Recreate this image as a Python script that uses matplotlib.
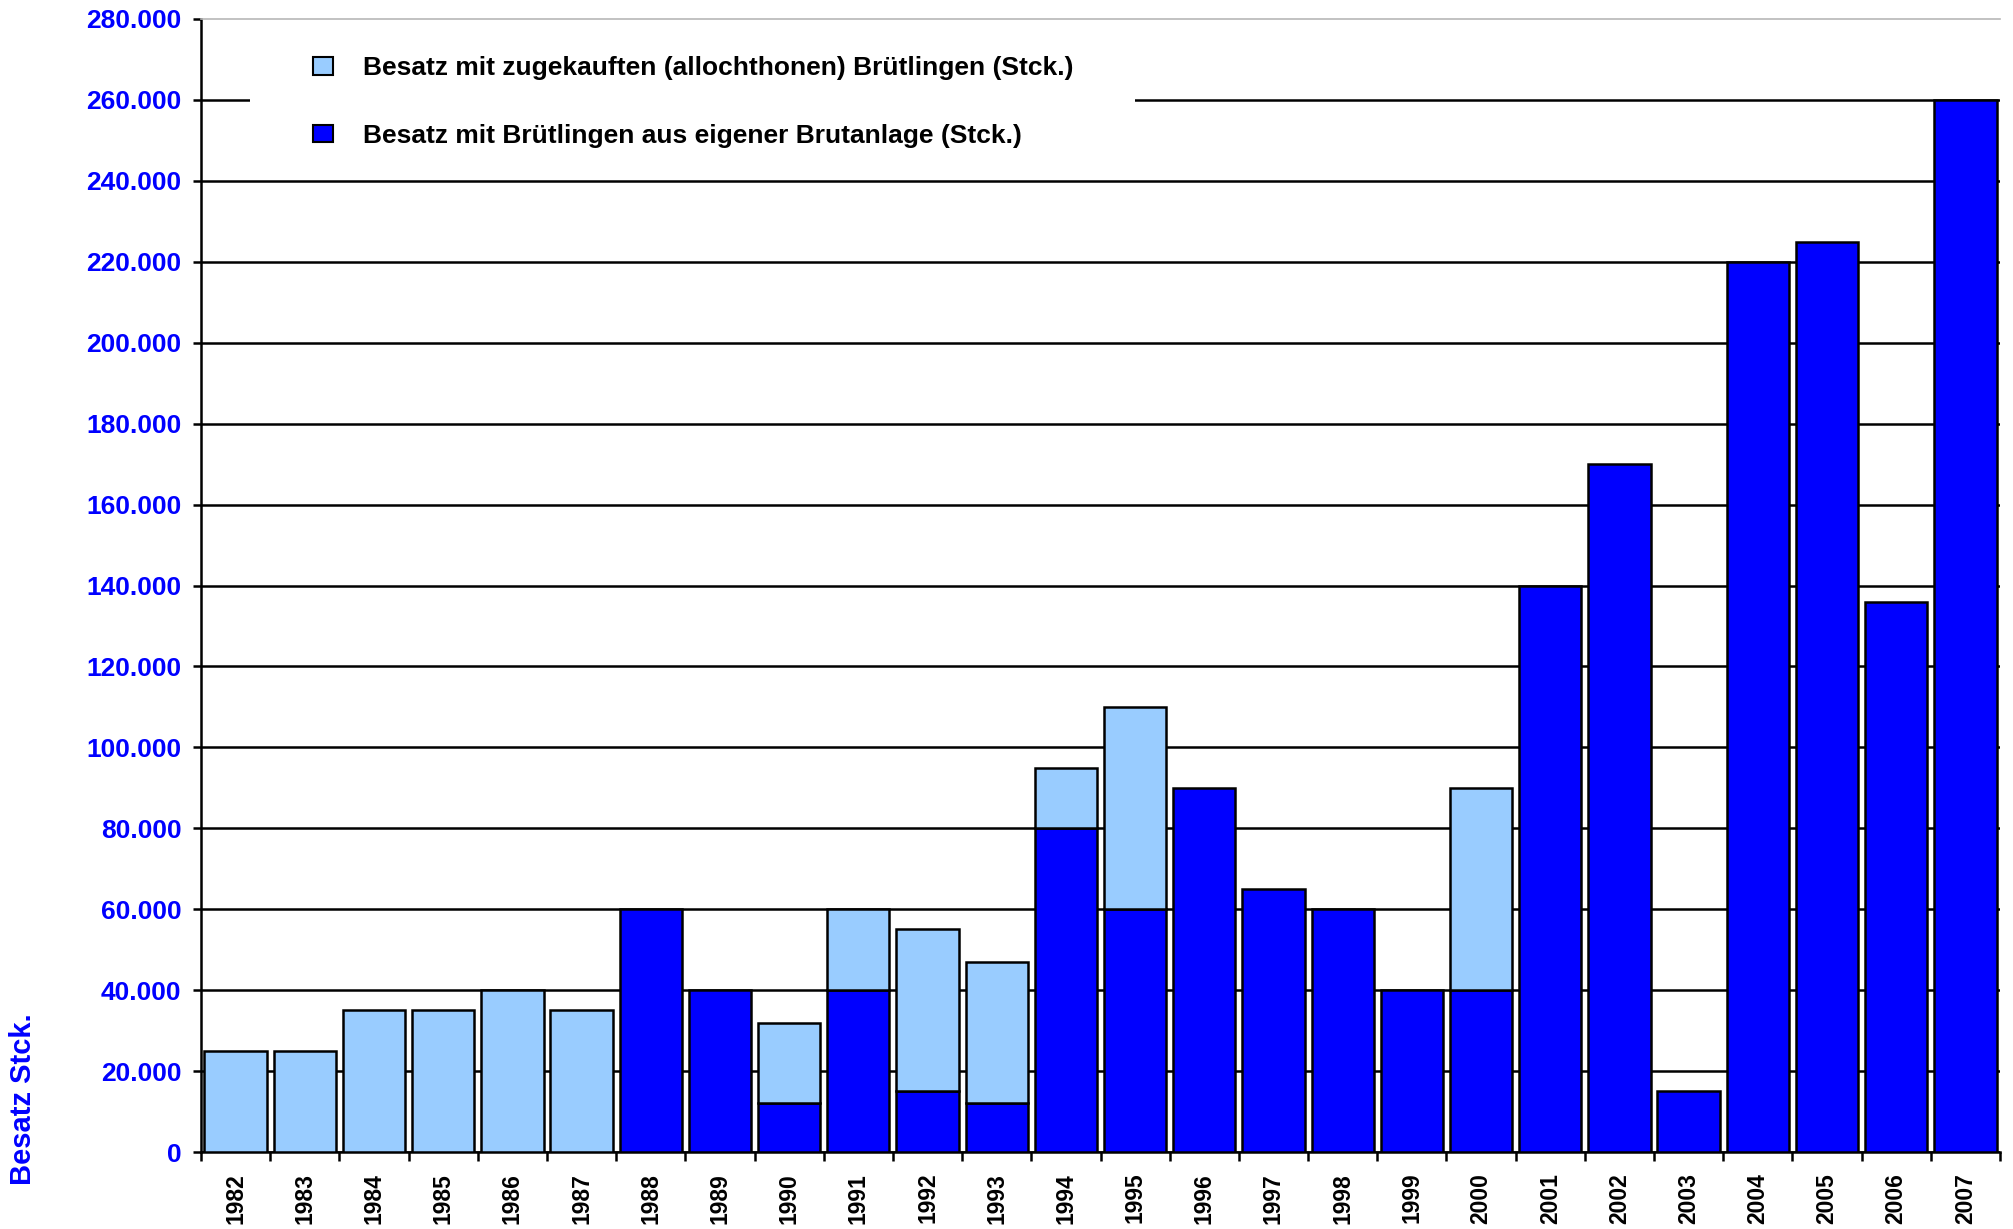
from matplotlib import pyplot as plt
from matplotlib.patches import Patch, Rectangle
import numpy as np

plt.rcParams['font.family'] = ['Liberation Sans', 'DejaVu Sans']
plt.rcParams['font.weight'] = 'bold'

years = [str(y) for y in range(1982, 2008)]
# Besatz mit Brütlingen aus eigener Brutanlage
eigen = [0, 0, 0, 0, 0, 0, 60000, 40000, 12000, 40000, 15000, 12000, 80000,
         60000, 90000, 65000, 60000, 40000, 40000, 140000, 170000, 15000,
         220000, 225000, 136000, 260000]
# Besatz mit zugekauften (allochthonen) Brütlingen
zugekauft = [25000, 25000, 35000, 35000, 40000, 35000, 0, 0, 20000, 20000,
             40000, 35000, 15000, 50000, 0, 0, 0, 0, 50000, 0, 0, 0,
             0, 0, 0, 0]
y_ticks = list(range(0, 280001, 20000))

label_zu = "Besatz mit zugekauften (allochthonen) Brütlingen (Stck.)"
label_eigen = "Besatz mit Brütlingen aus eigener Brutanlage (Stck.)"

LIGHT = '#99CCFF'
DARK = '#0000FF'


def draw_bars(ax):
    ''' Draw stacked bars, skip empty parts '''
    x = np.arange(len(years))
    e = np.array(eigen)
    z = np.array(zugekauft)
    m = e > 0
    ax.bar(x[m], e[m], width=0.9, color=DARK, edgecolor='black',
           linewidth=1.8, zorder=3)
    m = z > 0
    ax.bar(x[m], z[m], bottom=e[m], width=0.9, color=LIGHT,
           edgecolor='black', linewidth=1.8, zorder=3)


fig = plt.figure(figsize=(20.13, 12.29), dpi=100)
ax = fig.add_axes([201 / 2013, 1 - 1152 / 1229, 1799 / 2013, 1133 / 1229])
draw_bars(ax)

ax.set_xlim(-0.5, len(years) - 0.5)
ax.set_ylim(0, 280000)
ax.set_yticks(y_ticks)
ax.set_yticklabels([f"{v:,}".replace(",", ".") for v in y_ticks])
ax.set_xticks(np.arange(len(years)))
ax.set_xticklabels(years, rotation=90)
ax.set_xticks(np.arange(len(years) + 1) - 0.5, minor=True)

ax.tick_params(axis='y', length=6, width=1.8, pad=8, labelsize=19,
               labelcolor=DARK, direction='out')
ax.tick_params(axis='x', which='major', length=0, pad=15, labelsize=16.5,
               labelcolor='black')
ax.tick_params(axis='x', which='minor', length=6.5, width=1.8,
               direction='out')

ax.yaxis.grid(True, color='black', linewidth=1.8, zorder=1)
ax.set_axisbelow(True)
ax.get_ygridlines()[-1].set_visible(False)

ax.spines['right'].set_visible(False)
ax.spines['top'].set_color('#b8b8b8')
ax.spines['top'].set_linewidth(1.2)
ax.spines['left'].set_linewidth(1.8)
ax.spines['bottom'].set_linewidth(1.8)

# white background of the legend area (breaks the 260.000 gridline)
ax.add_patch(Rectangle((0.0272, 0.871), 0.492, 0.115, transform=ax.transAxes,
                       facecolor='white', edgecolor='none', zorder=4))

handles = [Patch(facecolor=LIGHT, edgecolor='black', linewidth=1.5),
           Patch(facecolor=DARK, edgecolor='black', linewidth=1.5)]
ax.legend(handles, [label_zu, label_eigen], loc='center left',
          bbox_to_anchor=(0.0623, 0.9267), fontsize=19, frameon=False,
          borderpad=0, borderaxespad=0, labelspacing=1.64,
          handlelength=0.75, handleheight=0.65, handletextpad=1.14)

fig.text(23 / 2013, 1 - 1099 / 1229, "Besatz Stck.", rotation=90,
         ha='center', va='center', fontsize=21, color=DARK,
         fontweight='bold')

fig.savefig('out.png', dpi=100)
